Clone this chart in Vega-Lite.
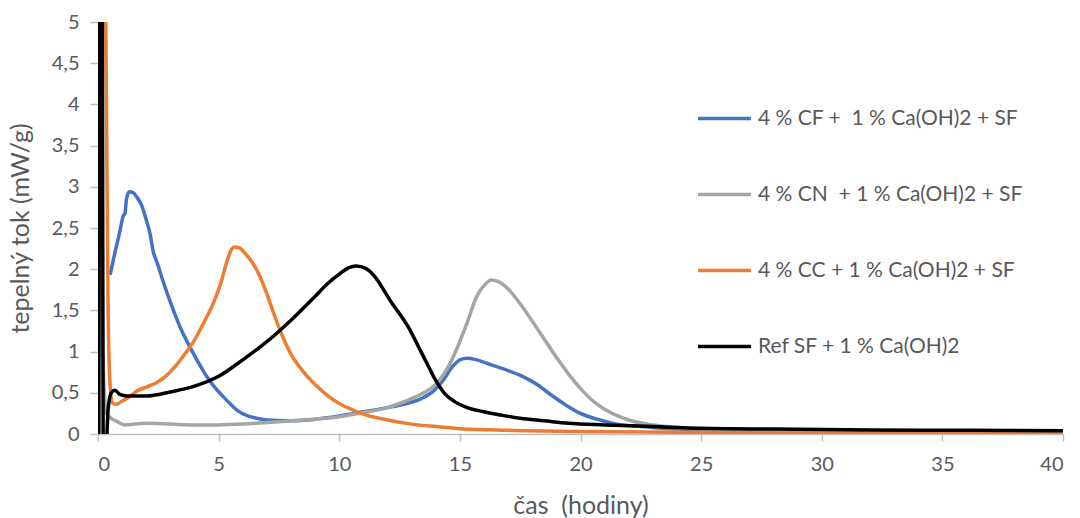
{
  "$schema": "https://vega.github.io/schema/vega-lite/v6.json",
  "autosize": {"type": "none"},
  "width": 965,
  "height": 412,
  "padding": {"left": 98, "top": 22, "right": 17, "bottom": 84},
  "background": "white",
  "config": {
    "view": {"stroke": null},
    "font": "Lato",
    "axis": {"labelColor": "#595959", "titleColor": "#595959", "labelFont": "Lato", "titleFont": "Lato", "labelFontSize": 20, "titleFontSize": 25, "titleFontWeight": "normal", "grid": false, "domainColor": "#BFBFBF", "tickColor": "#BFBFBF", "domainWidth": 1.5, "tickWidth": 1.5}
  },
  "data": {"values": [
    {"s":"CF","x":0.5,"y":1.93},{"s":"CF","x":0.7,"y":2.2},{"s":"CF","x":0.9,"y":2.45},{"s":"CF","x":1.05,"y":2.65},{"s":"CF","x":1.12,"y":2.68},{"s":"CF","x":1.18,"y":2.85},{"s":"CF","x":1.3,"y":2.94},{"s":"CF","x":1.45,"y":2.93},{"s":"CF","x":1.6,"y":2.88},{"s":"CF","x":1.8,"y":2.78},{"s":"CF","x":2.0,"y":2.6},{"s":"CF","x":2.15,"y":2.44},{"s":"CF","x":2.3,"y":2.2},{"s":"CF","x":2.45,"y":2.08},{"s":"CF","x":2.7,"y":1.85},{"s":"CF","x":3.0,"y":1.6},{"s":"CF","x":3.4,"y":1.3},{"s":"CF","x":3.8,"y":1.06},{"s":"CF","x":4.1,"y":0.9},{"s":"CF","x":4.5,"y":0.7},{"s":"CF","x":4.8,"y":0.58},{"s":"CF","x":5.2,"y":0.45},{"s":"CF","x":5.5,"y":0.36},{"s":"CF","x":5.8,"y":0.28},{"s":"CF","x":6.2,"y":0.22},{"s":"CF","x":6.6,"y":0.19},{"s":"CF","x":7.0,"y":0.17},{"s":"CF","x":8.0,"y":0.16},{"s":"CF","x":9.0,"y":0.18},{"s":"CF","x":10.0,"y":0.22},{"s":"CF","x":11.0,"y":0.27},{"s":"CF","x":12.0,"y":0.32},{"s":"CF","x":12.8,"y":0.37},{"s":"CF","x":13.4,"y":0.43},{"s":"CF","x":13.9,"y":0.52},{"s":"CF","x":14.3,"y":0.65},{"s":"CF","x":14.7,"y":0.82},{"s":"CF","x":15.0,"y":0.9},{"s":"CF","x":15.3,"y":0.92},{"s":"CF","x":15.7,"y":0.9},{"s":"CF","x":16.3,"y":0.84},{"s":"CF","x":17.0,"y":0.77},{"s":"CF","x":17.6,"y":0.7},{"s":"CF","x":18.2,"y":0.6},{"s":"CF","x":18.8,"y":0.47},{"s":"CF","x":19.4,"y":0.35},{"s":"CF","x":20.0,"y":0.25},{"s":"CF","x":20.8,"y":0.17},{"s":"CF","x":21.5,"y":0.12},{"s":"CF","x":22.5,"y":0.09},{"s":"CF","x":24,"y":0.06},{"s":"CF","x":26,"y":0.045},{"s":"CF","x":28,"y":0.035},{"s":"CF","x":30,"y":0.03},{"s":"CF","x":33,"y":0.02},{"s":"CF","x":36,"y":0.01},{"s":"CF","x":40,"y":0.0},
    {"s":"CN","x":0.03,"y":6},{"s":"CN","x":0.2,"y":1.0},{"s":"CN","x":0.35,"y":0.25},{"s":"CN","x":0.5,"y":0.2},{"s":"CN","x":0.8,"y":0.15},{"s":"CN","x":1.1,"y":0.11},{"s":"CN","x":1.5,"y":0.12},{"s":"CN","x":2.0,"y":0.13},{"s":"CN","x":3.0,"y":0.12},{"s":"CN","x":4.0,"y":0.11},{"s":"CN","x":5.0,"y":0.11},{"s":"CN","x":6.0,"y":0.12},{"s":"CN","x":7.0,"y":0.14},{"s":"CN","x":8.0,"y":0.16},{"s":"CN","x":9.0,"y":0.18},{"s":"CN","x":10.0,"y":0.21},{"s":"CN","x":11.0,"y":0.26},{"s":"CN","x":12.0,"y":0.32},{"s":"CN","x":12.5,"y":0.37},{"s":"CN","x":13.0,"y":0.43},{"s":"CN","x":13.5,"y":0.5},{"s":"CN","x":14.0,"y":0.6},{"s":"CN","x":14.6,"y":0.86},{"s":"CN","x":15.3,"y":1.35},{"s":"CN","x":15.7,"y":1.67},{"s":"CN","x":16.0,"y":1.8},{"s":"CN","x":16.3,"y":1.87},{"s":"CN","x":16.6,"y":1.85},{"s":"CN","x":17.0,"y":1.76},{"s":"CN","x":17.5,"y":1.58},{"s":"CN","x":18.0,"y":1.37},{"s":"CN","x":18.5,"y":1.15},{"s":"CN","x":19.0,"y":0.93},{"s":"CN","x":19.5,"y":0.73},{"s":"CN","x":20.1,"y":0.52},{"s":"CN","x":20.6,"y":0.38},{"s":"CN","x":21.0,"y":0.3},{"s":"CN","x":22.0,"y":0.17},{"s":"CN","x":23.0,"y":0.11},{"s":"CN","x":24.0,"y":0.08},{"s":"CN","x":25.0,"y":0.065},{"s":"CN","x":27,"y":0.05},{"s":"CN","x":30,"y":0.035},{"s":"CN","x":33,"y":0.025},{"s":"CN","x":36,"y":0.015},{"s":"CN","x":40,"y":0.005},
    {"s":"CC","x":0.25,"y":8},{"s":"CC","x":0.35,"y":4},{"s":"CC","x":0.42,"y":1.5},{"s":"CC","x":0.5,"y":0.6},{"s":"CC","x":0.6,"y":0.38},{"s":"CC","x":0.75,"y":0.36},{"s":"CC","x":1.0,"y":0.4},{"s":"CC","x":1.3,"y":0.45},{"s":"CC","x":1.6,"y":0.52},{"s":"CC","x":2.0,"y":0.57},{"s":"CC","x":2.4,"y":0.62},{"s":"CC","x":2.8,"y":0.7},{"s":"CC","x":3.2,"y":0.82},{"s":"CC","x":3.6,"y":0.97},{"s":"CC","x":4.0,"y":1.14},{"s":"CC","x":4.4,"y":1.36},{"s":"CC","x":4.8,"y":1.6},{"s":"CC","x":5.1,"y":1.84},{"s":"CC","x":5.35,"y":2.1},{"s":"CC","x":5.5,"y":2.22},{"s":"CC","x":5.65,"y":2.27},{"s":"CC","x":5.85,"y":2.26},{"s":"CC","x":6.1,"y":2.19},{"s":"CC","x":6.4,"y":2.08},{"s":"CC","x":6.7,"y":1.92},{"s":"CC","x":7.0,"y":1.7},{"s":"CC","x":7.3,"y":1.45},{"s":"CC","x":7.6,"y":1.22},{"s":"CC","x":8.0,"y":0.97},{"s":"CC","x":8.5,"y":0.76},{"s":"CC","x":9.0,"y":0.6},{"s":"CC","x":9.5,"y":0.47},{"s":"CC","x":10.0,"y":0.37},{"s":"CC","x":10.5,"y":0.3},{"s":"CC","x":11.0,"y":0.24},{"s":"CC","x":12.0,"y":0.17},{"s":"CC","x":13.0,"y":0.12},{"s":"CC","x":14.0,"y":0.09},{"s":"CC","x":15.0,"y":0.065},{"s":"CC","x":17,"y":0.045},{"s":"CC","x":20,"y":0.03},{"s":"CC","x":25,"y":0.02},{"s":"CC","x":30,"y":0.01},{"s":"CC","x":35,"y":0.005},{"s":"CC","x":40,"y":0.0},
    {"s":"Ref","x":0.03,"y":-1},{"s":"Ref","x":0.13,"y":12},{"s":"Ref","x":0.23,"y":-1},{"s":"Ref","x":0.3,"y":-0.6},{"s":"Ref","x":0.42,"y":0.3},{"s":"Ref","x":0.55,"y":0.5},{"s":"Ref","x":0.7,"y":0.53},{"s":"Ref","x":0.9,"y":0.48},{"s":"Ref","x":1.2,"y":0.46},{"s":"Ref","x":2.0,"y":0.46},{"s":"Ref","x":3.0,"y":0.51},{"s":"Ref","x":4.0,"y":0.58},{"s":"Ref","x":5.0,"y":0.7},{"s":"Ref","x":6.0,"y":0.9},{"s":"Ref","x":7.0,"y":1.12},{"s":"Ref","x":8.0,"y":1.38},{"s":"Ref","x":9.0,"y":1.67},{"s":"Ref","x":9.5,"y":1.82},{"s":"Ref","x":10.0,"y":1.94},{"s":"Ref","x":10.4,"y":2.02},{"s":"Ref","x":10.7,"y":2.04},{"s":"Ref","x":11.1,"y":2.01},{"s":"Ref","x":11.5,"y":1.9},{"s":"Ref","x":11.9,"y":1.72},{"s":"Ref","x":12.2,"y":1.58},{"s":"Ref","x":12.5,"y":1.46},{"s":"Ref","x":12.9,"y":1.28},{"s":"Ref","x":13.3,"y":1.05},{"s":"Ref","x":13.7,"y":0.82},{"s":"Ref","x":14.0,"y":0.65},{"s":"Ref","x":14.4,"y":0.48},{"s":"Ref","x":14.8,"y":0.39},{"s":"Ref","x":15.3,"y":0.32},{"s":"Ref","x":16.0,"y":0.27},{"s":"Ref","x":16.7,"y":0.23},{"s":"Ref","x":17.5,"y":0.19},{"s":"Ref","x":18.5,"y":0.16},{"s":"Ref","x":19.5,"y":0.13},{"s":"Ref","x":21,"y":0.11},{"s":"Ref","x":23,"y":0.09},{"s":"Ref","x":25,"y":0.07},{"s":"Ref","x":28,"y":0.06},{"s":"Ref","x":32,"y":0.05},{"s":"Ref","x":36,"y":0.045},{"s":"Ref","x":40,"y":0.04}
  ]},
  "mark": {"type": "line", "clip": true, "strokeWidth": 3.5, "interpolate": "monotone"},
  "encoding": {
    "x": {"field": "x", "type": "quantitative", "scale": {"domain": [0, 40], "nice": false, "zero": false},
      "axis": {"values": [0,5,10,15,20,25,30,35,40], "title": "čas\u00a0 (hodiny)", "tickSize": 7, "labelPadding": 13, "titlePadding": 19}},
    "y": {"field": "y", "type": "quantitative", "scale": {"domain": [0, 5], "nice": false},
      "axis": {"values": [0,0.5,1,1.5,2,2.5,3,3.5,4,4.5,5], "labelExpr": "replace(toString(datum.value), '.', ',')", "title": "tepelný tok (mW/g)", "domain": false, "tickSize": 8, "labelPadding": 11, "titlePadding": 18}},
    "color": {"field": "s", "type": "nominal",
      "scale": {"domain": ["CF","CN","CC","Ref"], "range": ["#4472C4","#A5A5A5","#ED7D31","#000000"]},
      "legend": {"title": null, "orient": "none", "legendX": 598, "legendY": 68, "symbolType": "stroke", "symbolSize": 2800, "symbolStrokeWidth": 3.5, "labelFontSize": 21, "labelColor": "#595959", "labelFont": "Lato", "labelOffset": 5, "rowPadding": 37, "labelLimit": 400,
        "labelExpr": "datum.value == 'CF' ? '4 % CF +\u00a0 1 % Ca(OH)2 + SF' : datum.value == 'CN' ? '4 % CN\u00a0 + 1 % Ca(OH)2 + SF' : datum.value == 'CC' ? '4 % CC + 1 % Ca(OH)2 + SF' : 'Ref SF + 1 % Ca(OH)2'"}}
  }
}
